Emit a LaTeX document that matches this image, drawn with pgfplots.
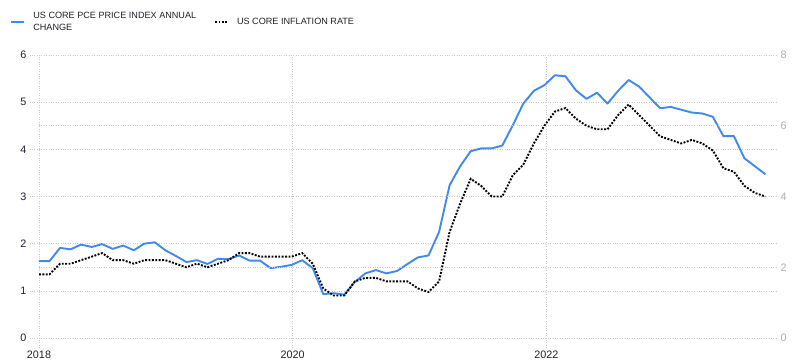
\documentclass[border=0pt]{standalone}
\usepackage{fontspec}
\setmainfont{Liberation Sans}
\usepackage{pgfplots}
\pgfplotsset{compat=1.18}
\definecolor{pceblue}{RGB}{66,137,238}
\definecolor{gridc}{RGB}{200,200,200}
\definecolor{rlab}{RGB}{172,172,182}
\definecolor{ltext}{RGB}{30,30,45}
\definecolor{legtext}{RGB}{30,30,40}
\begin{document}
\begin{tikzpicture}[x=1pt,y=1pt]
\useasboundingbox (0,0) rectangle (798,364);
\begin{axis}[
  at={(39pt,26pt)}, anchor=south west,
  width=737pt, height=283pt, scale only axis,
  xmin=0, xmax=70, ymin=0, ymax=6,
  axis line style={draw=none},
  tick pos=left,
  xtick={0,24.1,48.2}, xticklabels={2018,2020,2022},
  ytick={0,1,2,3,4,5,6},
  grid=major, major grid style={gridc, dotted, line width=0.6pt},
  tick style={gridc, dotted, line width=0.6pt},
  tick align=outside, major tick length=9pt,
  ticklabel style={font=\fontsize{10.8}{12}\selectfont, text=ltext},
  /pgf/number format/assume math mode=true,
  legend style={at={(axis description cs:-0.039,1.159)}, anchor=north west,
    draw=none, fill=none, font=\fontsize{9.1}{12}\selectfont, text=legtext,
    inner sep=0pt, row sep=0pt,
    /tikz/every even column/.append style={column sep=16pt},
    cells={align=left}},
  legend columns=2, legend cell align=left,
  legend image code/.code={\draw[#1] (0pt,0pt) -- (13pt,0pt); \path (19pt,0pt);},
]
\addplot[pceblue, line width=1.9pt, line join=round] coordinates {
(0,1.63)(1,1.63)(2,1.91)(3,1.88)(4,1.98)(5,1.93)(6,1.99)(7,1.89)(8,1.96)(9,1.86)
(10,2.00)(11,2.03)(12,1.86)(13,1.74)(14,1.61)(15,1.65)(16,1.57)(17,1.68)(18,1.67)(19,1.75)
(20,1.64)(21,1.64)(22,1.48)(23,1.51)(24,1.55)(25,1.65)(26,1.48)(27,0.93)(28,0.95)(29,0.92)
(30,1.19)(31,1.37)(32,1.44)(33,1.37)(34,1.42)(35,1.57)(36,1.71)(37,1.75)(38,2.25)(39,3.24)
(40,3.64)(41,3.96)(42,4.02)(43,4.02)(44,4.08)(45,4.51)(46,4.97)(47,5.24)(48,5.36)(49,5.57)
(50,5.55)(51,5.25)(52,5.07)(53,5.20)(54,4.97)(55,5.24)(56,5.47)(57,5.33)(58,5.10)(59,4.87)
(60,4.90)(61,4.84)(62,4.78)(63,4.76)(64,4.69)(65,4.28)(66,4.28)(67,3.81)(68,3.64)(69,3.47)
};
\addlegendentry{US CORE PCE PRICE INDEX ANNUAL\\CHANGE}
\addlegendimage{black, line width=1.9pt, dash pattern=on 1.9pt off 1.5pt}
\addlegendentry{US CORE INFLATION RATE}
\end{axis}
\begin{axis}[
  at={(39pt,26pt)}, anchor=south west,
  width=737pt, height=283pt, scale only axis,
  xmin=0, xmax=70, ymin=0, ymax=8,
  hide x axis,
  axis y line*=right,
  axis line style={draw=none},
  ytick={0,2,4,6,8},
  ymajorgrids, major grid style={gridc, dotted, line width=0.6pt},
  tick style={draw=none}, major tick length=0pt,
  yticklabel style={font=\fontsize{10.8}{12}\selectfont, text=rlab, xshift=1pt},
  /pgf/number format/assume math mode=true,
]
\addplot[black, line width=1.9pt, dash pattern=on 1.9pt off 1.5pt] coordinates {
(0,1.8)(1,1.8)(2,2.1)(3,2.1)(4,2.2)(5,2.3)(6,2.4)(7,2.2)(8,2.2)(9,2.1)
(10,2.2)(11,2.2)(12,2.2)(13,2.1)(14,2.0)(15,2.1)(16,2.0)(17,2.1)(18,2.2)(19,2.4)
(20,2.4)(21,2.3)(22,2.3)(23,2.3)(24,2.3)(25,2.4)(26,2.1)(27,1.4)(28,1.2)(29,1.2)
(30,1.6)(31,1.7)(32,1.7)(33,1.6)(34,1.6)(35,1.6)(36,1.4)(37,1.3)(38,1.6)(39,3.0)
(40,3.8)(41,4.5)(42,4.3)(43,4.0)(44,4.0)(45,4.6)(46,4.9)(47,5.5)(48,6.0)(49,6.4)
(50,6.5)(51,6.2)(52,6.0)(53,5.9)(54,5.9)(55,6.3)(56,6.6)(57,6.3)(58,6.0)(59,5.7)
(60,5.6)(61,5.5)(62,5.6)(63,5.5)(64,5.3)(65,4.8)(66,4.7)(67,4.3)(68,4.1)(69,4.0)
};
\end{axis}
\end{tikzpicture}
\end{document}
